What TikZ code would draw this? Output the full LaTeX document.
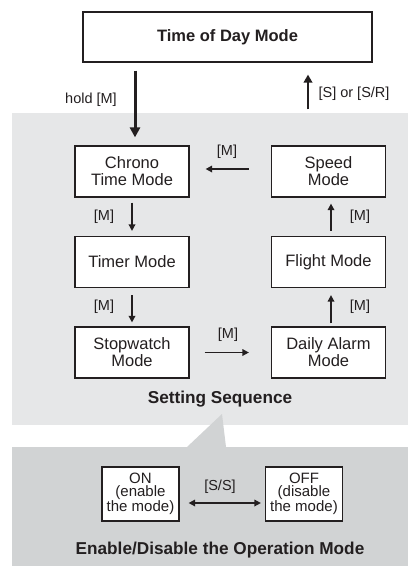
\documentclass[tikz,border=0pt]{standalone}
\usepackage{fontspec}
\setmainfont{Liberation Sans}
\usetikzlibrary{arrows.meta}
\definecolor{ink}{HTML}{231F20}
\definecolor{panelA}{HTML}{E6E7E8}
\definecolor{panelB}{HTML}{D1D3D4}
\begin{document}
\begin{tikzpicture}[x=1pt,y=-1pt,
  every node/.style={text=ink},
  box/.style={draw=ink,line width=1.2pt,fill=white,minimum width=114pt,minimum height=51pt,inner sep=0pt,align=center,font=\fontsize{16.5}{17}\selectfont},
  smallbox/.style={draw=ink,line width=1.2pt,fill=white,minimum width=77pt,minimum height=54pt,inner sep=0pt,align=center,font=\fontsize{15}{13.5}\selectfont},
  lbl/.style={font=\fontsize{14.5}{16}\selectfont,inner sep=0pt},
  caption/.style={font=\bfseries\fontsize{17.2}{19}\selectfont,inner sep=0pt},
  arr/.style={draw=ink,line width=1.6pt,-{Triangle[length=6.5pt,width=6.5pt]}},
  bigarr/.style={draw=ink,line width=3pt,-{Triangle[length=10pt,width=10pt]}},
  midarr/.style={draw=ink,line width=2.6pt,-{Triangle[length=8pt,width=8.5pt]}},
  dblarr/.style={draw=ink,line width=1.6pt,{Triangle[length=6.5pt,width=6.5pt]}-{Triangle[length=6.5pt,width=6.5pt]}}
]
\useasboundingbox (0,0) rectangle (408,566);
\fill[white] (0,0) rectangle (408,566);
% panels
\fill[panelA] (12,113) rectangle (408,425);
\fill[panelB] (12,447) rectangle (408,566);
\fill[panelB] (222,414) -- (187,447) -- (226,447) -- cycle;

% nodes
\node[box,minimum width=289pt,minimum height=50pt,font=\bfseries\fontsize{16.5}{18}\selectfont] (tod) at (227.5,37) {Time of Day Mode};
\node[box] (chrono) at (132,171.5) {Chrono\\Time Mode};
\node[box] (speed) at (328.5,171.5) {Speed\\Mode};
\node[box] (timer) at (132,262) {Timer Mode};
\node[box] (flight) at (328.5,262) {Flight Mode};
\node[box] (stop) at (132,352.5) {Stopwatch\\Mode};
\node[box] (daily) at (328.5,352.5) {Daily Alarm\\Mode};
\node[smallbox] (on) at (140.5,494) {ON\\(enable\\the mode)};
\node[smallbox] (off) at (304,494) {OFF\\(disable\\the mode)};

\node[caption] (setseq) at (220,399) {Setting Sequence};
\node[caption] (endis) at (220,550) {Enable/Disable the Operation Mode};

% connectors
\coordinate (hx) at (135,0);
\coordinate (ux) at (308,0);
\draw[bigarr,shorten <=8pt,shorten >=8pt] (tod.south -| hx) -- (chrono.north -| hx);
\draw[midarr,shorten <=36pt,shorten >=12pt] (speed.north -| ux) -- (tod.south -| ux);
\draw[arr,shorten <=22pt,shorten >=16pt] ([yshift=2.5pt]speed.west) -- ([yshift=2.5pt]chrono.east);
\draw[arr,shorten <=5pt,shorten >=5pt] (chrono.south) -- (timer.north);
\draw[arr,shorten <=7pt,shorten >=4pt] (timer.south) -- (stop.north);
\draw[arr,shorten <=15pt,shorten >=22pt] (stop.east) -- (daily.west);
\draw[arr,shorten <=3pt,shorten >=7pt] ([xshift=2.5pt]daily.north) -- ([xshift=2.5pt]flight.south);
\draw[arr,shorten <=5pt,shorten >=6pt] ([xshift=2.5pt]flight.north) -- ([xshift=2.5pt]speed.south);
\draw[dblarr,shorten <=9pt,shorten >=4pt] ([yshift=-9pt]on.east) -- ([yshift=-9pt]off.west);

% labels
\node[lbl] (l1) at (91,100) {hold [M]};
\node[lbl] (l2) at (354,94) {[S] or [S/R]};
\node[lbl] (l3) at (227,152) {[M]};
\node[lbl] (l4) at (104,217) {[M]};
\node[lbl] (l5) at (104,307) {[M]};
\node[lbl] (l6) at (228,335) {[M]};
\node[lbl] (l7) at (360,307) {[M]};
\node[lbl] (l8) at (360,217) {[M]};
\node[lbl] (l9) at (220,487) {[S/S]};
\end{tikzpicture}
\end{document}
